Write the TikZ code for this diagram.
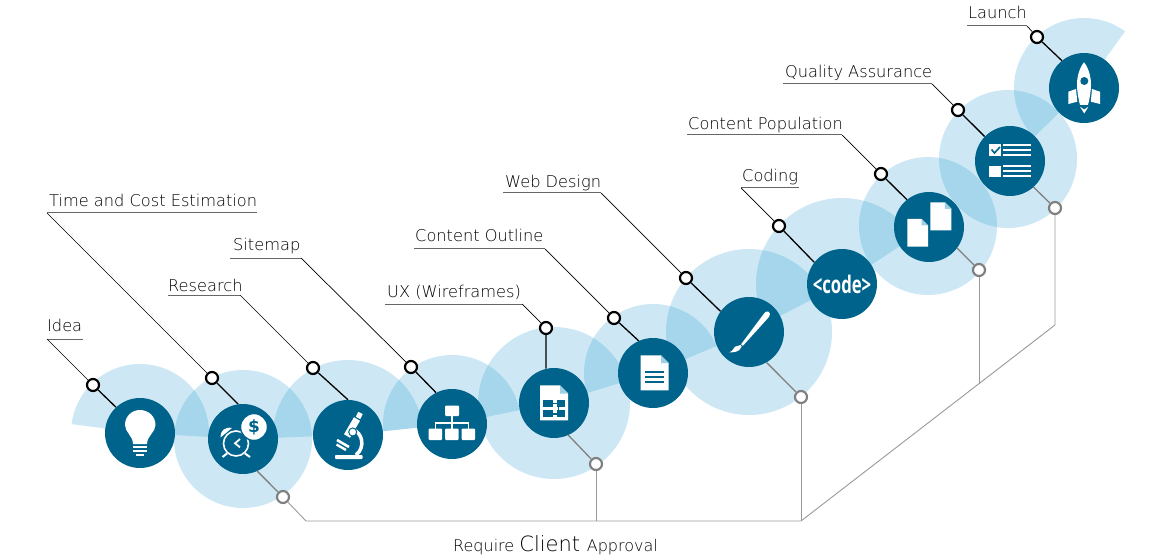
\documentclass[tikz,border=0pt]{standalone}
\usepackage{fontspec}
\setmainfont{DejaVu Sans ExtraLight}
\newfontfamily\boldfam{Open Sans}[Scale=1]
\newfontfamily\dejafam{DejaVu Sans}
\definecolor{iconblue}{HTML}{00638C}
\definecolor{halo}{RGB}{5,140,200}
\definecolor{earblue}{HTML}{9FCFE3}
\tikzset{
  halofill/.style={fill=halo,fill opacity=0.2,draw=none},
  iconc/.style={circle,fill=iconblue,minimum size=70pt,inner sep=0pt},
  blackdot/.style={circle,draw=black,fill=white,line width=2.2pt,minimum size=12pt,inner sep=0pt},
  graydot/.style={circle,draw=black!50,fill=white,line width=2.2pt,minimum size=12pt,inner sep=0pt},
  lab/.style={anchor=base west,inner sep=0pt,font=\fontsize{16.2}{16}\selectfont,text=black},
  thinline/.style={draw=black,line width=0.7pt},
  thickline/.style={draw=black,line width=1.3pt},
  underl/.style={draw=black!60,line width=1pt},
  grayup/.style={draw=black!50,line width=1.3pt},
  graylow/.style={draw=black!40,line width=0.9pt},
}
\begin{document}
\begin{tikzpicture}[x=1pt,y=1pt,yscale=-1]
\useasboundingbox (0,0) rectangle (1170,556);
% halos: sectors
\fill[halofill] (140,433) -- ++(187.4:69) arc[start angle=187.4,end angle=363.3,radius=69] -- cycle;
\fill[halofill] (348,435) -- ++(177.8:75) arc[start angle=177.8,end angle=354,radius=75] -- cycle;
\fill[halofill] (452,424) -- ++(174:69) arc[start angle=174,end angle=348.4,radius=69] -- cycle;
\fill[halofill] (653,373) -- ++(163.1:69) arc[start angle=163.1,end angle=336.9,radius=69] -- cycle;
\fill[halofill] (842,284) -- ++(152.7:86) arc[start angle=152.7,end angle=326.8,radius=86] -- cycle;
\fill[halofill] (1084,88) -- ++(135.4:70) arc[start angle=135.4,end angle=306,radius=70] -- cycle;
% halos: full
\fill[halofill] (243,439) circle[radius=69];
\fill[halofill] (554,403) circle[radius=76];
\fill[halofill] (749,332) circle[radius=83];
\fill[halofill] (928,226) circle[radius=69];
\fill[halofill] (1008,159) circle[radius=69];
% icon circles
\node[iconc] (i1) at (140,433) {};
\node[iconc] (i2) at (243,439) {};
\node[iconc] (i3) at (348,435) {};
\node[iconc] (i4) at (452,424) {};
\node[iconc] (i5) at (554,403) {};
\node[iconc] (i6) at (653,373) {};
\node[iconc] (i7) at (749,332) {};
\node[iconc] (i8) at (842,284) {};
\node[iconc] (i9) at (929,227) {};
\node[iconc] (i10) at (1010,161) {};
\node[iconc] (i11) at (1084,88) {};
% label ends
\coordinate (a1) at (47,339); \coordinate (b1) at (83,339);
\coordinate (a2) at (47,213); \coordinate (b2) at (257,213);
\coordinate (a3) at (168,295); \coordinate (b3) at (240,295);
\coordinate (a4) at (230,258); \coordinate (b4) at (301,258);
\coordinate (a5) at (385,304); \coordinate (b5) at (522,304);
\coordinate (a6) at (414,249); \coordinate (b6) at (545,249);
\coordinate (a7) at (503,193); \coordinate (b7) at (601,193);
\coordinate (a8) at (741,188); \coordinate (b8) at (799,188);
\coordinate (a9) at (687,135); \coordinate (b9) at (842,135);
\coordinate (a10) at (783,84); \coordinate (b10) at (932,84);
\coordinate (a11) at (967,26); \coordinate (b11) at (1027,26);
% junctions
\coordinate (j0) at (306,521);
\coordinate (j5) at (596,521);
\coordinate (j7) at (801,521);
\coordinate (j9) at (979,384);
\coordinate (j10) at (1055,325);
% dots
\node[blackdot] (d1) at (93,385) {};
\node[blackdot] (d2) at (212,378) {};
\node[blackdot] (d3) at (313,368) {};
\node[blackdot] (d4) at (411,367) {};
\node[blackdot] (d5) at (546,328) {};
\node[blackdot] (d6) at (614,318) {};
\node[blackdot] (d7) at (686,278) {};
\node[blackdot] (d8) at (779,226) {};
\node[blackdot] (d9) at (881,174) {};
\node[blackdot] (d10) at (958,110) {};
\node[blackdot] (d11) at (1037,37) {};
\node[graydot] (g2) at (283,497) {};
\node[graydot] (g5) at (596,464) {};
\node[graydot] (g7) at (801,397) {};
\node[graydot] (g9) at (979,270) {};
\node[graydot] (g10) at (1055,208) {};
% black connectors
\draw[underl] (a1) -- (b1); \draw[thinline] (a1) -- (d1); \draw[thickline] (d1) -- (i1.133);
\draw[underl] (a2) -- (b2); \draw[thinline] (a2) -- (d2); \draw[thickline] (d2) -- (i2.98);
\draw[underl] (a3) -- (b3); \draw[thinline] (b3) -- (d3); \draw[thickline] (d3) -- (i3.90);
\draw[underl] (a4) -- (b4); \draw[thinline] (b4) -- (d4); \draw[thickline] (d4) -- (i4.117);
\draw[underl] (a5) -- (b5); \draw[thinline] (b5) -- (d5); \draw[thickline] (d5) -- (i5.103);
\draw[underl] (a6) -- (b6); \draw[thinline] (b6) -- (d6); \draw[thickline] (d6) -- (i6.114);
\draw[underl] (a7) -- (b7); \draw[thinline] (b7) -- (d7); \draw[thickline] (d7) -- (i7.144);
\draw[underl] (a8) -- (b8); \draw[thinline] (a8) -- (d8); \draw[thickline] (d8) -- (i8.142);
\draw[underl] (a9) -- (b9); \draw[thinline] (b9) -- (d9); \draw[thickline] (d9) -- (i9.129);
\draw[underl] (a10) -- (b10); \draw[thinline] (b10) -- (d10); \draw[thickline] (d10) -- (i10.136);
\draw[underl] (a11) -- (b11); \draw[thinline] (b11) -- (d11); \draw[thickline] (d11) -- (i11.129);
% gray connectors
\draw[grayup] (i2.-66) -- (g2);
\draw[grayup] (i5.-66) -- (g5);
\draw[grayup] (i7.-60) -- (g7);
\draw[grayup] (i9.-37) -- (g9);
\draw[grayup] (i10.-48) -- (g10);
\draw[graylow] (g2) -- (j0) -- (j7) -- (j10) -- (g10);
\draw[graylow] (g5) -- (j5);
\draw[graylow] (g7) -- (j7);
\draw[graylow] (g9) -- (j9);
% labels
\node[lab] (t1) at (47,331) {Idea};
\node[lab] (t2) at (49,207) {Time and Cost Estimation};
\node[lab] (t3) at (168,291) {Research};
\node[lab] (t4) at (233,251) {Sitemap};
\node[lab] (t5) at (387,297) {UX (Wireframes)};
\node[lab] (t6) at (415,241) {Content Outline};
\node[lab] (t7) at (505,188) {Web Design};
\node[lab] (t8) at (742,182) {Coding};
\node[lab] (t9) at (688,130) {Content Population};
\node[lab] (t10) at (785,78) {Quality Assurance};
\node[lab] (t11) at (968,19) {Launch};
\node[anchor=base west,inner sep=0pt,text=black] (req) at (453,551) {\fontsize{16}{16}\selectfont Require \fontsize{21}{21}\selectfont Client \fontsize{16}{16}\selectfont Approval};
% bulb
\fill[white] (133,444) .. controls (133,436) and (125,432) .. (125,425) .. controls (125,416) and (132,410) .. (140,410) .. controls (148,410) and (155.5,416) .. (155.5,425) .. controls (155.5,432) and (147,436) .. (147,444) -- cycle;
\fill[white] (133,446) rectangle (147,448);
\fill[white] (133,450) rectangle (147,452);
\fill[white] (136,454) rectangle (144,456);
% alarm clock
\draw[white,line width=1.6pt] (236,443.5) circle[radius=12.5];
\draw[white,line width=1.8pt] (240,439) -- (235,443.3) -- (240,447.3);
\draw[white,line width=2pt] (227,453.5) -- (222.5,457);
\draw[white,line width=2pt] (245,453.5) -- (250,457);
\fill[white] (220.5,437.5) .. controls (220,431) and (225,426.5) .. (232,428) -- cycle;
\draw[iconblue,fill=white,line width=1.4pt] (254,427) circle[radius=13.5];
\node[inner sep=0pt,text=iconblue] (dollar) at (254,427) {\dejafam\bfseries\fontsize{17}{17}\selectfont\$};
% microscope
\draw[white,line width=3.5pt] (353,430) .. controls (362,432) and (366,447) .. (356,455);
\fill[white,rounded corners=0.8pt] (335,455) rectangle (362.5,459);
\draw[white,line width=7pt] (357,419) -- (347,436);
\draw[white,line width=5pt] (360.5,413) -- (358,418);
\draw[iconblue,fill=white,line width=1pt] (352.7,432) circle[radius=4];
\draw[white,line width=2.6pt] (337,440) -- (349,447);
\draw[white,line width=2.4pt] (336.5,444.5) -- (346,450);
% sitemap
\fill[white,rounded corners=1pt] (445,405.5) rectangle (459,416);
\foreach \xx in {428.7,445,461.7} {\fill[white,rounded corners=1pt] (\xx,428.5) rectangle ++(13.5,11.5);}
\draw[white,line width=1.4pt] (452,416) -- (452,429);
\draw[white,line width=1.4pt] (435.5,429) -- (435.5,423) -- (468.5,423) -- (468.5,429);
% wireframe doc
\fill[white] (540,385.3) -- (560,385.3) -- (568,393.5) -- (568,420.3) -- (540,420.3) -- cycle;
\fill[earblue] (560,385.3) -- (560,393.5) -- (568,393.5) -- cycle;
\fill[iconblue] (543.3,399.5) rectangle (553,406.7);
\fill[iconblue] (556.5,399.5) rectangle (565,406.7);
\fill[iconblue] (543.3,410) rectangle (553,417.3);
\fill[iconblue] (556.5,410) rectangle (565,417.3);
\fill[iconblue] (552.5,402.5) rectangle (557,404);
\fill[iconblue] (552.5,413) rectangle (557,414.5);
\fill[iconblue] (557.5,406.2) rectangle (559,410.5);
% document
\fill[white] (640.7,355.3) -- (661,355.3) -- (668.7,363) -- (668.7,390.3) -- (640.7,390.3) -- cycle;
\fill[earblue] (661,355.3) -- (661,363) -- (668.7,363) -- cycle;
\foreach \yy in {371.7,377,382.3} {\fill[iconblue] (645,\yy-0.9) rectangle (664,\yy+0.9);}
% brush
\fill[white] (742.9,345.8) -- (769,316.9) .. controls (772,311) and (766,310) .. (764.4,313.1) -- (741.1,344.2) -- cycle;
\fill[white] (741.7,346.7) -- (739.3,350) .. controls (737,352) and (733,352.5) .. (729.3,352.3) .. controls (733,351) and (733.5,348) .. (735,346.7) -- (740.7,345) -- cycle;
% code
\node[inner sep=0pt,text=white] (codetxt) at (842,284) {\scalebox{0.76}[1.1]{\boldfam\bfseries\fontsize{22}{22}\selectfont <code>}};
% pages
\fill[white] (907.3,219) -- (921.5,219) -- (928,225.5) -- (928,246.7) -- (907.3,246.7) -- cycle;
\fill[earblue] (921.5,219) -- (921.5,225.5) -- (928,225.5) -- cycle;
\fill[white] (930.3,202.3) -- (944.8,202.3) -- (951.3,208.8) -- (951.3,230.3) -- (930.3,230.3) -- cycle;
\fill[earblue] (944.8,202.3) -- (944.8,208.8) -- (951.3,208.8) -- cycle;
% checklist
\fill[white] (989.3,144.3) rectangle (1001.3,156);
\draw[iconblue,line width=1.6pt] (991.5,149.5) -- (994.5,153) -- (1000,147);
\fill[white] (989.3,165.7) rectangle (1001.3,177.3);
\foreach \yy in {145.5,150.5,155.5,166.5,171.5,176.5} {\fill[white] (1003.3,\yy-1) rectangle (1031,\yy+1);}
% rocket
\fill[white] (1084,62.3) .. controls (1088,67) and (1091,76) .. (1091,84) .. controls (1091,92) and (1089.5,99) .. (1088,105) -- (1080,105) .. controls (1078.5,99) and (1077,92) .. (1077,84) .. controls (1077,76) and (1080,67) .. (1084,62.3) -- cycle;
\fill[iconblue] (1084.3,81) circle[radius=4];
\fill[white] (1068.3,91.7) -- (1076,89) -- (1077.3,101.7) -- (1068.3,104) -- cycle;
\fill[white] (1100,91.7) -- (1092,89) -- (1090.8,101.7) -- (1100,104) -- cycle;
\fill[white] (1080,106.7) -- (1084.2,109.6) -- (1088.4,106.7) -- (1084.2,113.5) -- cycle;
\end{tikzpicture}
\end{document}
